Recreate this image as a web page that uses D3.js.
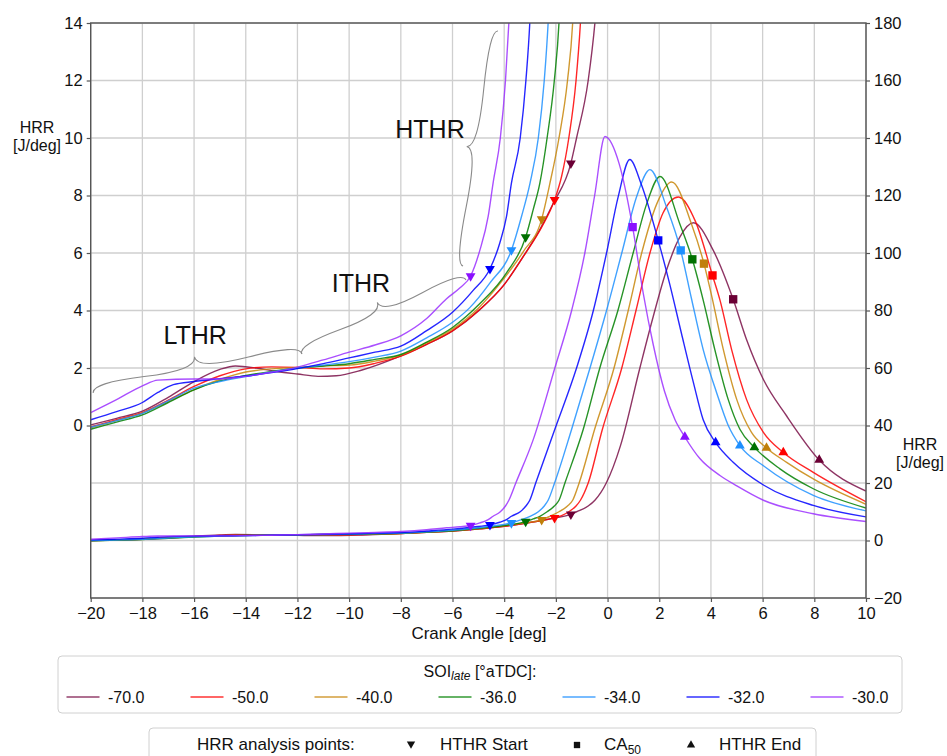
<!DOCTYPE html>
<html>
<head>
<meta charset="utf-8">
<script src="https://cdn.jsdelivr.net/npm/d3@7"></script>
<style>
  body { margin: 0; background: #fff; }
  text { font-family: "Liberation Sans", Arial, sans-serif; fill: #111; }
</style>
</head>
<body>
<svg id="chart" width="947" height="756"></svg>
<script>
// SOI_late values and colours, legend order
const soiLate = [-70, -50, -40, -36, -34, -32, -30];
const lineColors = ["#7a1048", "#ff0000", "#c8860a", "#008000", "#1e90ff", "#0000ff", "#9b30ff"];
const markColors = ["#6b0035", "#ff0000", "#c07f0a", "#007000", "#1e8fff", "#0000ff", "#8a10ff"];

// HRR curves [crank angle deg, HRR J/deg]
const hrr70 = [[-20,0.02],[-19,0.25],[-18,0.5],[-17,0.98],[-16,1.53],[-15,1.95],[-14.4,2.07],[-13.6,2.0],[-12.8,1.88],[-12,1.79],[-11.2,1.71],[-10.5,1.73],[-9.5,1.93],[-8,2.42],[-7,2.82],[-6,3.29],[-4.94,4.03],[-4,4.9],[-3.26,5.88],[-2.6,6.85],[-2.1,7.73],[-1.42,9.12],[-1.2,10],[-0.75,12],[-0.49,14],[-0.05,20],[0.5,33],[1.25,60],[1.77,78],[2.28,94],[2.8,105.6],[3.32,110.5],[4.09,100.9],[4.86,83.9],[5.38,69.8],[6.03,56],[6.93,43.3],[8.19,28],[10,17.2]];
const hrr50 = [[-20,-0.05],[-19,0.2],[-18,0.45],[-17,0.88],[-16,1.36],[-15,1.73],[-14,1.97],[-13,2.04],[-12,2.02],[-11,1.97],[-10,2.0],[-9,2.16],[-8,2.41],[-7,2.82],[-6,3.29],[-4.94,4.04],[-4,4.9],[-3.26,5.88],[-2.55,6.9],[-2.05,7.85],[-1.78,8.66],[-1.5,10],[-1.22,12],[-1.05,14],[-0.75,20],[-0.2,38.7],[0.55,60],[1.1,80],[1.64,100],[2.15,114],[2.74,119.5],[3.4,111],[4.06,92.2],[4.35,83.6],[4.8,66.4],[5.38,49],[6.03,37.6],[6.8,30.6],[7.96,23.7],[10,13.5]];
const hrr40 = [[-20,-0.08],[-19,0.17],[-18,0.43],[-17,0.83],[-16,1.25],[-15,1.6],[-14,1.86],[-13,1.97],[-12,2.02],[-11,2.07],[-10,2.1],[-9,2.24],[-8,2.45],[-7,2.87],[-6,3.35],[-5,4.08],[-4.2,4.9],[-3.26,6.05],[-2.55,7.18],[-2.23,8.43],[-1.88,10],[-1.55,12],[-1.35,14],[-1.1,20],[-0.5,38.7],[0.25,60],[0.8,80],[1.32,100],[1.9,117],[2.48,124.7],[3.25,110],[3.73,96.3],[4.03,85],[4.48,66.4],[5.0,49],[5.57,37.6],[6.15,32.2],[6.93,27.2],[7.96,21.4],[10,12.6]];
const hrr36 = [[-20,-0.13],[-19,0.12],[-18,0.37],[-17,0.8],[-16,1.24],[-15,1.55],[-14,1.74],[-13,1.88],[-12,2.0],[-11,2.07],[-10,2.15],[-9,2.3],[-8,2.47],[-7,2.9],[-6,3.41],[-4.94,4.24],[-3.91,5.31],[-3.17,6.55],[-2.88,7.5],[-2.62,8.43],[-2.34,10],[-2.06,12],[-1.88,14],[-1.65,20],[-0.94,38.7],[-0.3,60],[0.4,80],[0.99,100],[1.51,117],[2.03,126.6],[2.8,110],[3.28,97.8],[3.7,83.6],[4.15,66.4],[4.67,49],[5.12,38.7],[5.68,32.4],[6.67,24.9],[7.96,18],[10,11.3]];
const hrr34 = [[-20,-0.06],[-19,0.17],[-18,0.42],[-17,0.86],[-16,1.3],[-15,1.53],[-14,1.7],[-13,1.86],[-12,2.0],[-11,2.1],[-10,2.22],[-9,2.38],[-8,2.59],[-7,3.05],[-6,3.59],[-5.33,4.1],[-4.55,4.96],[-3.72,6.1],[-3.33,7.27],[-3.0,8.43],[-2.68,10],[-2.45,12],[-2.3,14],[-2.05,20],[-1.39,38.7],[-0.68,60],[-0.04,80],[0.55,100],[1.12,119.5],[1.64,129],[2.28,116],[2.83,100.9],[3.25,84],[3.7,66.4],[4.22,51.4],[4.67,40],[5.12,33],[6.03,26],[7.96,15.7],[10,10.3]];
const hrr32 = [[-20,0.2],[-19,0.48],[-18,0.8],[-17.4,1.15],[-16.8,1.42],[-16,1.53],[-15,1.63],[-14,1.72],[-13,1.84],[-12,1.98],[-11,2.15],[-10,2.35],[-9,2.55],[-8,2.76],[-7,3.3],[-6,3.94],[-5.2,4.7],[-4.55,5.45],[-4.17,6.35],[-3.91,7.27],[-3.72,8.43],[-3.38,10],[-3.16,12],[-3.01,14],[-2.78,20],[-2.04,38.7],[-1.2,60],[-0.55,80],[-0.04,100],[0.41,119.5],[0.86,132.5],[1.3,124],[1.96,104.4],[2.41,89],[2.86,72],[3.32,55],[3.7,42],[4.18,34.1],[4.86,27.2],[6.03,19.3],[7.96,12.2],[10,8.2]];
const hrr30 = [[-20,0.45],[-19,0.9],[-18,1.38],[-17.4,1.58],[-16,1.62],[-15,1.62],[-14,1.71],[-13,1.85],[-12,2.03],[-11,2.28],[-10,2.55],[-9,2.8],[-8,3.12],[-7,3.72],[-6.23,4.41],[-5.72,4.78],[-5.3,5.2],[-4.94,6.1],[-4.62,7.27],[-4.43,8.43],[-4.15,10],[-3.95,12],[-3.82,14],[-3.55,20],[-2.88,35],[-2.04,60],[-1.39,80],[-0.88,100],[-0.5,120],[-0.1,140.5],[0.45,131],[0.97,109],[1.38,86],[1.77,68],[2.2,52],[2.61,42],[2.99,36],[3.57,28.5],[4.35,22.6],[5,19],[6.03,14],[7.96,9.3],[10,6.6]];
const curves = [hrr70, hrr50, hrr40, hrr36, hrr34, hrr32, hrr30];

// analysis points, same order as soiLate
const hthrStart = [[-1.42,9.12],[-2.05,7.85],[-2.55,7.18],[-3.17,6.55],[-3.72,6.1],[-4.55,5.45],[-5.3,5.2]];
const ca50 = [[4.86,83.9],[4.06,92.2],[3.73,96.3],[3.28,97.8],[2.83,100.9],[1.96,104.4],[0.97,109]];
const hthrEnd = [[8.19,28],[6.8,30.6],[6.15,32.2],[5.68,32.4],[5.12,33],[4.18,34.1],[2.99,36]];

const xTicks = d3.range(-20, 11, 2);
const yLeftTicks = d3.range(0, 15, 2);
const yRightTicks = d3.range(-20, 181, 20);

const svg = d3.select("#chart");
const m = {left: 90.7, right: 866, top: 23, bottom: 598};

const x = d3.scaleLinear().domain([-20, 10]).range([m.left, m.right]);
const yL = d3.scaleLinear().domain([-6, 14]).range([m.bottom, m.top]);
const yR = d3.scaleLinear().domain([-20, 180]).range([m.bottom, m.top]);

svg.append("defs").append("clipPath").attr("id", "plotclip")
  .append("rect").attr("x", m.left).attr("y", m.top)
  .attr("width", m.right - m.left).attr("height", m.bottom - m.top);

// grid
const grid = svg.append("g").attr("stroke", "#cfcfcf").attr("stroke-width", 1.3);
grid.selectAll(".gx").data(xTicks).enter().append("line")
  .attr("x1", d => x(d)).attr("x2", d => x(d)).attr("y1", m.top).attr("y2", m.bottom);
grid.selectAll(".gy").data(yRightTicks).enter().append("line")
  .attr("y1", d => yR(d)).attr("y2", d => yR(d)).attr("x1", m.left).attr("x2", m.right);

const plot = svg.append("g").attr("clip-path", "url(#plotclip)");

const lineL = d3.line().x(d => x(d[0])).y(d => yL(d[1])).curve(d3.curveMonotoneX);
const lineR = d3.line().x(d => x(d[0])).y(d => yR(d[1])).curve(d3.curveMonotoneX);

curves.forEach(function(c, i) {
  // zoomed (left axis) copy only up to where it leaves the top
  const cut = c.findIndex(d => d[1] >= 20);
  plot.append("path").attr("d", lineL(c.slice(0, cut + 1))).attr("fill", "none")
    .attr("stroke", lineColors[i]).attr("stroke-width", 1.4).attr("stroke-opacity", 0.85);
  plot.append("path").attr("d", lineR(c)).attr("fill", "none")
    .attr("stroke", lineColors[i]).attr("stroke-width", 1.4).attr("stroke-opacity", 0.85);
});

const tri = d3.symbol().type(d3.symbolTriangle).size(42);
const sq = d3.symbol().type(d3.symbolSquare).size(70);

function drawMarks(pts, ys, gen, rot) {
  plot.selectAll(null).data(pts).enter().append("path")
    .attr("d", gen)
    .attr("transform", d => "translate(" + x(d[0]) + "," + ys(d[1]) + ")" + (rot ? " rotate(180)" : ""))
    .attr("fill", (d, i) => markColors[i]);
}
drawMarks(hthrStart, yL, tri, true);
drawMarks(hthrStart, yR, tri, true);
drawMarks(ca50, yR, sq, false);
drawMarks(hthrEnd, yR, tri, false);

// frame
svg.append("rect").attr("x", m.left).attr("y", m.top)
  .attr("width", m.right - m.left).attr("height", m.bottom - m.top)
  .attr("fill", "none").attr("stroke", "#555").attr("stroke-width", 1.4);

// axes
function styleAxis(g) {
  g.select(".domain").remove();
  g.selectAll(".tick line").attr("stroke", "#555").attr("stroke-width", 1.2);
  g.selectAll(".tick text").style("font-size", "16.5px").attr("fill", "#111")
    .style("font-family", "'Liberation Sans', Arial, sans-serif");
}
svg.append("g").attr("transform", "translate(0," + m.bottom + ")")
  .call(d3.axisBottom(x).tickValues(xTicks).tickSize(4).tickPadding(5).tickFormat(d3.format("d")))
  .call(styleAxis);
svg.append("g").attr("transform", "translate(" + m.left + ",0)")
  .call(d3.axisLeft(yL).tickValues(yLeftTicks).tickSize(4).tickPadding(4).tickFormat(d3.format("d")))
  .call(styleAxis);
svg.append("g").attr("transform", "translate(" + m.right + ",0)")
  .call(d3.axisRight(yR).tickValues(yRightTicks).tickSize(4).tickPadding(4).tickFormat(d3.format("d")))
  .call(styleAxis);

// axis titles
svg.append("text").attr("x", 479).attr("y", 639).attr("text-anchor", "middle")
  .style("font-size", "17px").text("Crank Angle [deg]");
const lt = svg.append("text").attr("text-anchor", "middle").style("font-size", "16px");
lt.append("tspan").attr("x", 37).attr("y", 133).text("HRR");
lt.append("tspan").attr("x", 37).attr("y", 151).text("[J/deg]");
const rt = svg.append("text").attr("text-anchor", "middle").style("font-size", "16px");
rt.append("tspan").attr("x", 920).attr("y", 450).text("HRR");
rt.append("tspan").attr("x", 920).attr("y", 468).text("[J/deg]");

// curly braces for the heat release phases
function brace(x1, y1, x2, y2, w, q) {
  let dx = x1 - x2, dy = y1 - y2;
  const len = Math.sqrt(dx * dx + dy * dy);
  dx /= len; dy /= len;
  const qx1 = x1 + q * w * dy, qy1 = y1 - q * w * dx;
  const qx2 = (x1 - .25 * len * dx) + (1 - q) * w * dy, qy2 = (y1 - .25 * len * dy) - (1 - q) * w * dx;
  const tx1 = (x1 - .5 * len * dx) + w * dy, ty1 = (y1 - .5 * len * dy) - w * dx;
  const qx3 = x2 + q * w * dy, qy3 = y2 - q * w * dx;
  const qx4 = (x1 - .75 * len * dx) + (1 - q) * w * dy, qy4 = (y1 - .75 * len * dy) - (1 - q) * w * dx;
  return "M" + x1 + "," + y1 + "Q" + qx1 + "," + qy1 + " " + qx2 + "," + qy2 + "T" + tx1 + "," + ty1 +
    "M" + x2 + "," + y2 + "Q" + qx3 + "," + qy3 + " " + qx4 + "," + qy4 + "T" + tx1 + "," + ty1;
}
const braces = [
  {a: [-11.83, 2.49], b: [-19.9, 1.13], w: 17, label: "LTHR", lx: -15.96, ly: 2.83},
  {a: [-5.48, 5.06], b: [-11.83, 2.49], w: 16, label: "ITHR", lx: -9.54, ly: 4.65},
  {a: [-4.24, 13.72], b: [-5.59, 5.55], w: 14, label: "HTHR", lx: -6.87, ly: 10.0}
];
braces.forEach(function(b) {
  svg.append("path").attr("d", brace(x(b.a[0]), yL(b.a[1]), x(b.b[0]), yL(b.b[1]), b.w, 0.6))
    .attr("fill", "none").attr("stroke", "#8a8a8a").attr("stroke-width", 1.1);
  svg.append("text").attr("x", x(b.lx)).attr("y", yL(b.ly)).attr("text-anchor", "middle")
    .style("font-size", "25px").text(b.label);
});

// legend 1: SOI late
const lg = svg.append("g");
lg.append("rect").attr("x", 58).attr("y", 656).attr("width", 844).attr("height", 57)
  .attr("rx", 4).attr("fill", "#fff").attr("stroke", "#d0d0d0");
const lgt = lg.append("text").attr("x", 480).attr("y", 677).attr("text-anchor", "middle").style("font-size", "16px");
lgt.append("tspan").text("SOI");
lgt.append("tspan").attr("font-style", "italic").style("font-size", "12px").attr("dy", 3).text("late");
lgt.append("tspan").attr("dy", -3).text(" [°aTDC]:");
soiLate.forEach(function(s, i) {
  const x0 = 66.5 + 124 * i;
  lg.append("line").attr("x1", x0).attr("x2", x0 + 33).attr("y1", 697).attr("y2", 697)
    .attr("stroke", lineColors[i]).attr("stroke-width", 2).attr("stroke-opacity", 0.6);
  lg.append("text").attr("x", x0 + 41.5).attr("y", 702.5).style("font-size", "16px").text(s.toFixed(1));
});

// legend 2: analysis points
const lg2 = svg.append("g");
lg2.append("rect").attr("x", 149).attr("y", 728).attr("width", 667).attr("height", 50)
  .attr("rx", 4).attr("fill", "#fff").attr("stroke", "#d0d0d0");
lg2.append("text").attr("x", 197).attr("y", 750).style("font-size", "17px").text("HRR analysis points:");
const smallTri = d3.symbol().type(d3.symbolTriangle).size(30);
lg2.append("path").attr("d", smallTri).attr("transform", "translate(411,744) rotate(180)").attr("fill", "#111");
lg2.append("text").attr("x", 440).attr("y", 750).style("font-size", "17px").text("HTHR Start");
lg2.append("path").attr("d", d3.symbol().type(d3.symbolSquare).size(40)).attr("transform", "translate(577,745)").attr("fill", "#111");
const ca = lg2.append("text").attr("x", 604).attr("y", 750).style("font-size", "17px");
ca.append("tspan").text("CA");
ca.append("tspan").style("font-size", "12px").attr("dy", 4).text("50");
lg2.append("path").attr("d", smallTri).attr("transform", "translate(691,745)").attr("fill", "#111");
lg2.append("text").attr("x", 719).attr("y", 750).style("font-size", "17px").text("HTHR End");
</script>
</body>
</html>
